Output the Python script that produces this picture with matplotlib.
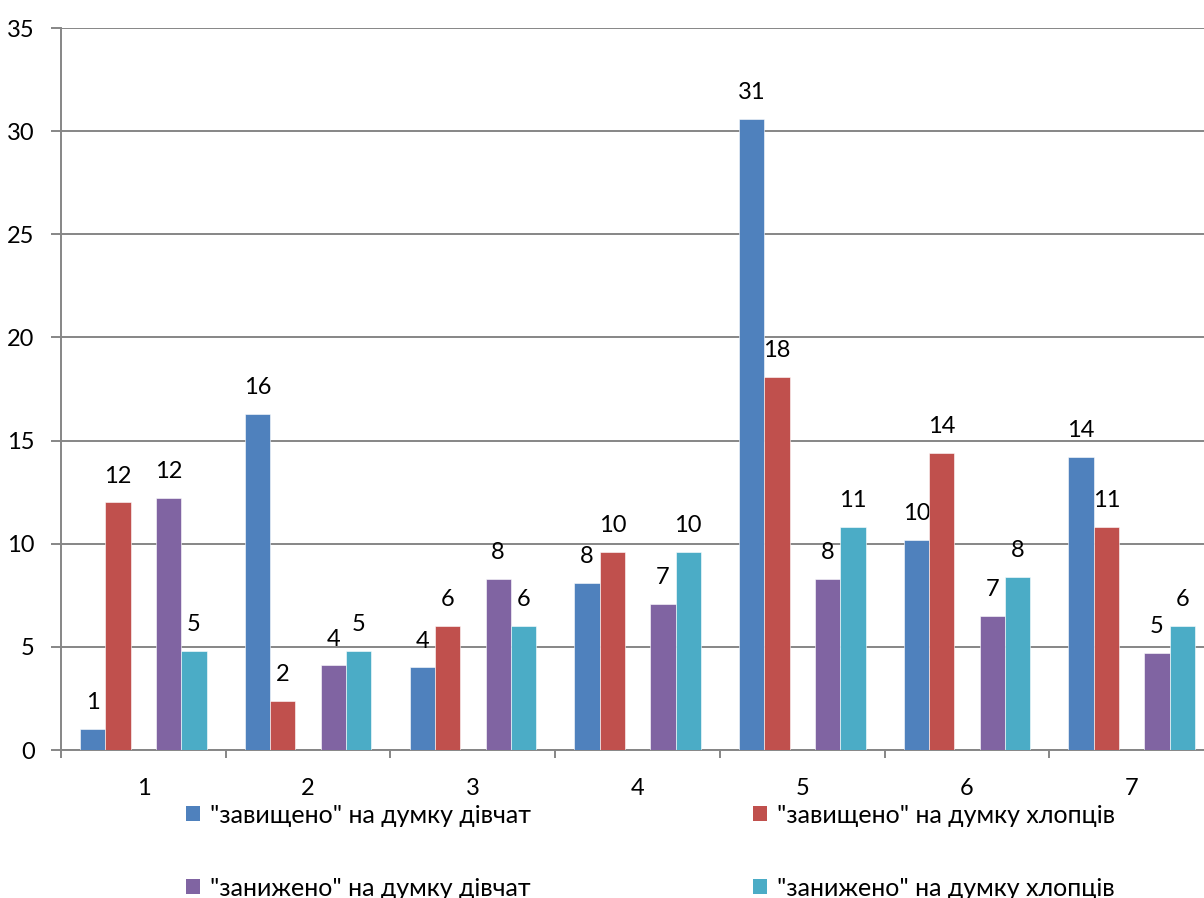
import numpy as np
import matplotlib.pyplot as plt
from matplotlib.patches import Patch

plt.rcParams['font.family'] = ['Lato', 'DejaVu Sans']

groups = ['1', '2', '3', '4', '5', '6', '7']
labels = ['"завищено" на думку дівчат', '"завищено" на думку хлопців',
          '"занижено" на думку дівчат', '"занижено" на думку хлопців']
girls_over = [1.0, 16.3, 4.0, 8.1, 30.6, 10.2, 14.2]
boys_over = [12.0, 2.4, 6.0, 9.6, 18.1, 14.4, 10.8]
girls_under = [12.2, 4.1, 8.3, 7.1, 8.3, 6.52, 4.7]
boys_under = [4.8, 4.8, 6.0, 9.6, 10.8, 8.4, 6.0]

series = [girls_over, boys_over, girls_under, boys_under]
colors = ['#4F81BD', '#C0504D', '#8064A2', '#4BACC6']
slots = [0, 1, 3, 4]   # slot 2 stays empty inside each group

myfont = 17
grid_c = '#868686'

fig = plt.figure(figsize=(12.04, 8.98), dpi=100)
ax = fig.add_axes([0.0507, 0.1648, 0.9577, 0.804])

x = np.arange(1, len(groups) + 1)
w = 0.1536
for vals, col, s in zip(series, colors, slots):
    pos = x + (s - 2) * w
    bars = ax.bar(pos, vals, width=w, color=col, edgecolor='white', linewidth=0.4, zorder=3)
    for b, v in zip(bars, vals):
        ax.annotate('{0:.0f}'.format(v + 1e-9), (b.get_x() + b.get_width() / 2, v),
                    xytext=(0, 19), textcoords='offset points',
                    ha='center', va='center', fontsize=myfont, color='black')

ax.set_xlim(0.5, len(groups) + 0.5)
ax.set_ylim(0, 35)
ax.set_yticks(np.arange(0, 36, 5))
ax.yaxis.grid(True, color=grid_c, lw=1.4, zorder=0)
ax.set_axisbelow(True)

ax.set_xticks(x)
ax.set_xticklabels(groups)
ax.set_xticks(np.arange(0.5, len(groups) + 1, 1), minor=True)
ax.tick_params(axis='x', which='major', length=0, pad=20, labelsize=myfont)
ax.tick_params(axis='x', which='minor', length=6, width=1.4, color=grid_c)
ax.tick_params(axis='y', length=7, width=1.4, color=grid_c, pad=12, labelsize=myfont)

for sp in ['top', 'right']:
    ax.spines[sp].set_visible(False)
for sp in ['left', 'bottom']:
    ax.spines[sp].set_color(grid_c)
    ax.spines[sp].set_linewidth(1.4)

# legend: 2 columns, first column girls, second boys
handles = [Patch(facecolor=c) for c in colors]
order = [0, 2, 1, 3]
fig.legend([handles[i] for i in order], [labels[i] for i in order],
           ncol=2, loc='upper left', bbox_to_anchor=(0.136, 0.13),
           frameon=False, fontsize=18, handlelength=0.55, handleheight=0.55,
           handletextpad=0.4, columnspacing=8.9, labelspacing=2.0)

fig.savefig('out.png', dpi=100)
